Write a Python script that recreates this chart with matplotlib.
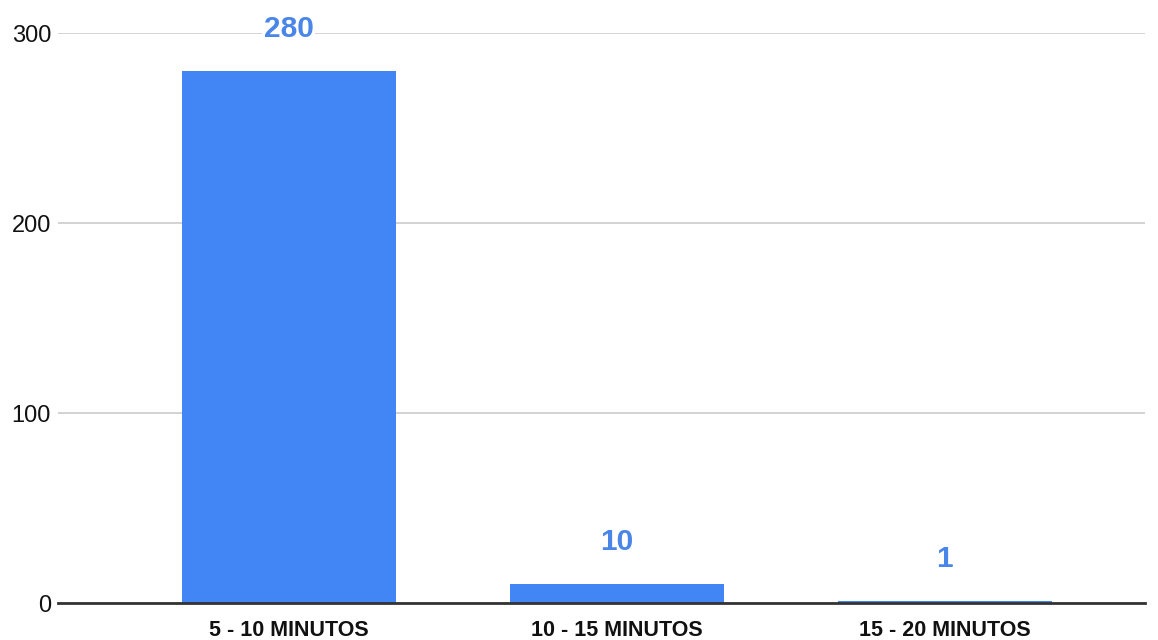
import matplotlib.pyplot as plt

categorias = ["5 - 10 MINUTOS", "10 - 15 MINUTOS", "15 - 20 MINUTOS"]
valores = [280, 10, 1]
y_ticks = [0, 100, 200, 300]

plt.rcParams['font.family'] = ['Liberation Sans', 'DejaVu Sans']

fig = plt.figure(figsize=(11.58, 6.4), dpi=100)
ax = fig.add_axes([58 / 1158, 1 - 603 / 640, (1145 - 58) / 1158, 570 / 640])

x = range(len(categorias))
bars = ax.bar(x, valores, width=0.652, color="#4285F4", zorder=3)

# etiquetas de valor encima de cada barra
for b, v in zip(bars, valores):
    ax.annotate(str(v), (b.get_x() + b.get_width() / 2, b.get_height()),
                xytext=(0, 30), textcoords="offset points",
                ha="center", va="center", fontsize=21.5, fontweight="bold",
                color="#4a86e8", zorder=4,
                bbox=dict(facecolor="white", edgecolor="none", pad=1))

ax.set_xlim(-0.704, 2.61)
ax.set_ylim(0, 300)
ax.set_yticks(y_ticks)
ax.set_xticks(list(x))
ax.set_xticklabels(categorias, fontsize=15.5, fontweight="bold", color="#111111")
ax.tick_params(axis="y", length=0, pad=5, labelsize=17, labelcolor="#111111")
ax.tick_params(axis="x", length=0, pad=12)

ax.grid(axis="y", color="#cccccc", linewidth=1.2, zorder=0)
for s in ["top", "right", "left"]:
    ax.spines[s].set_visible(False)
ax.spines["bottom"].set_color("#333333")
ax.spines["bottom"].set_linewidth(2)
ax.spines["bottom"].set_zorder(5)

fig.savefig("out.png", dpi=100)
